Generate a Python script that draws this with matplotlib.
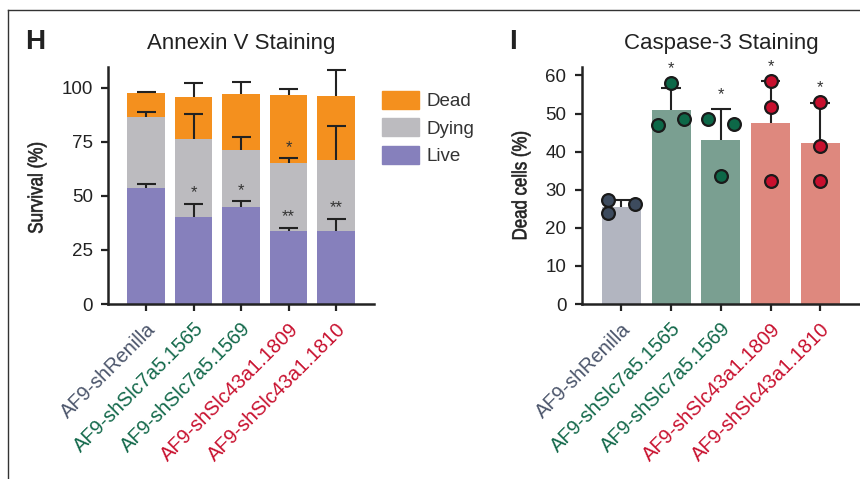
import numpy as np
import matplotlib.pyplot as plt
from matplotlib.patches import Patch, PathPatch
from matplotlib.lines import Line2D
from matplotlib.textpath import TextPath
from matplotlib.font_manager import FontProperties
from matplotlib.transforms import Affine2D, IdentityTransform

plt.rcParams['font.family'] = ['Liberation Sans', 'DejaVu Sans']

groups = ["AF9-shRenilla", "AF9-shSlc7a5.1565", "AF9-shSlc7a5.1569",
          "AF9-shSlc43a1.1809", "AF9-shSlc43a1.1810"]
label_colors = ["#4b556b", "#12684a", "#12684a", "#c8102e", "#c8102e"]

# Annexin V (stacked, %)
live = [53.7, 40.3, 44.9, 33.8, 33.8]
dying = [32.6, 36.1, 26.4, 31.5, 32.9]
dead = [11.2, 19.3, 25.8, 31.3, 29.4]
live_err = [2.0, 6.1, 2.6, 1.5, 5.6]
dying_err = [2.3, 11.4, 5.9, 2.1, 15.7]
dead_err = [0.6, 6.6, 5.4, 2.9, 11.9]
live_sig = ["", "*", "*", "**", "**"]
dying_sig = ["", "", "", "*", ""]

# Caspase-3 (dead cells %)
casp_mean = [25.5, 50.9, 43.0, 47.5, 42.3]
casp_err = [1.8, 5.9, 8.3, 11.0, 10.4]
casp_pts = [[27.3, 23.8, 26.2], [57.9, 47.0, 48.5], [48.5, 33.6, 47.2],
            [58.6, 51.8, 32.4], [53.1, 41.5, 32.4]]
casp_offsets = [[-13, -13, 13], [0, -13, 13], [-13, 0, 13], [0, 0, 0], [0, 0, 0]]
casp_sig = ["", "*", "*", "*", "*"]
casp_bar_colors = ["#b2b5c0", "#7a9f91", "#7a9f91", "#de887e", "#de887e"]
casp_dot_colors = ["#3d4b5e", "#0d6848", "#0d6848", "#c8102e", "#c8102e"]

INK = "#222222"


def style_axis(ax):
    for s in ["top", "right"]:
        ax.spines[s].set_visible(False)
    for s in ["left", "bottom"]:
        ax.spines[s].set_linewidth(1.8)
        ax.spines[s].set_color(INK)
    ax.tick_params(width=1.6, length=5, colors=INK, labelsize=13.5, pad=6)
    ax.set_xticks(range(len(groups)))
    ax.set_xticklabels(groups, rotation=45, ha="right", rotation_mode="anchor",
                       fontsize=14.3)
    for t, c in zip(ax.get_xticklabels(), label_colors):
        t.set_color(c)
    ax.set_xlim(-0.8, 4.8)


def upper_err(ax, xs, tops, errs, capw=0.2):
    # only the upper half of an error bar, like the reference
    for xi, t, e in zip(xs, tops, errs):
        ax.plot([xi, xi], [t, t + e], color=INK, lw=1.5, zorder=3, solid_capstyle="butt")
        ax.plot([xi - capw, xi + capw], [t + e, t + e], color=INK, lw=1.5, zorder=3,
                solid_capstyle="butt")


def narrow_ylabel(fig, text, cx, cy, length, height):
    # condensed vertical label; pixel coords from the top-left corner
    tp = TextPath((0, 0), text, size=20, prop=FontProperties(family="Liberation Sans"))
    ext = tp.get_extents()
    sx = length / ext.width
    sy = height / ext.height
    tr = (Affine2D().translate(-ext.x0 - ext.width / 2, -ext.y0 - ext.height / 2)
          .scale(sx, sy).rotate_deg(90).translate(cx, 479 - cy))
    fig.add_artist(PathPatch(tr.transform_path(tp), transform=IdentityTransform(),
                             facecolor=INK, edgecolor=INK, lw=0.45))


fig = plt.figure(figsize=(8.6, 4.79), dpi=100)
x = np.arange(len(groups))
w = 0.78

# panel H
ax1 = fig.add_axes([0.1256, 0.3653, 0.3093, 0.4952])
bottom_dying = np.array(live)
bottom_dead = bottom_dying + np.array(dying)
top_dead = bottom_dead + np.array(dead)
ax1.bar(x, live, w, color="#8680bc", zorder=2)
ax1.bar(x, dying, w, bottom=bottom_dying, color="#bcbbbf", zorder=2)
ax1.bar(x, dead, w, bottom=bottom_dead, color="#f4901e", zorder=2)
upper_err(ax1, x, live, live_err)
upper_err(ax1, x, bottom_dead, dying_err)
upper_err(ax1, x, top_dead, dead_err)
for i in range(5):
    if live_sig[i]:
        ax1.text(x[i], live[i] + live_err[i] + 1.5, live_sig[i], ha="center",
                 va="bottom", fontsize=12, color="#333333")
    if dying_sig[i]:
        ax1.text(x[i], bottom_dead[i] + dying_err[i] + 1.5, dying_sig[i], ha="center",
                 va="bottom", fontsize=12, color="#333333")
ax1.set_ylim(0, 109.7)
ax1.set_yticks([0, 25, 50, 75, 100])
style_axis(ax1)
ax1.set_title("Annexin V Staining", fontsize=16, color=INK, pad=13)
narrow_ylabel(fig, "Survival (%)", 37, 188, 90, 19)

handles = [Patch(color="#f4901e"), Patch(color="#bcbbbf"), Patch(color="#8680bc")]
fig.legend(handles, ["Dead", "Dying", "Live"], loc="upper left",
           bbox_to_anchor=(382 / 860, 1 - 91 / 479), frameon=False, fontsize=13.5,
           handlelength=1.95, handleheight=1.1, labelspacing=0.42, handletextpad=0.45,
           borderpad=0, borderaxespad=0, labelcolor="#333333")

# panel I
ax2 = fig.add_axes([0.6764, 0.3653, 0.3236, 0.4955])
ax2.bar(x, casp_mean, w, color=casp_bar_colors, zorder=2)
upper_err(ax2, x, casp_mean, casp_err)
for i in range(5):
    px = x[i] + np.array(casp_offsets[i]) / 49.25
    ax2.plot(px, casp_pts[i], "o", ms=9.2, mfc=casp_dot_colors[i], mec="#1a1a1a",
             mew=1.6, zorder=4, clip_on=False)
    if casp_sig[i]:
        top = max(max(casp_pts[i]), casp_mean[i] + casp_err[i])
        ax2.text(x[i], top + 1.8, casp_sig[i], ha="center", va="bottom",
                 fontsize=12, color="#333333", clip_on=False)
ax2.set_ylim(0, 62.3)
ax2.set_yticks([0, 10, 20, 30, 40, 50, 60])
style_axis(ax2)
ax2.set_title("Caspase-3 Staining", fontsize=16, color=INK, pad=13)
narrow_ylabel(fig, "Dead cells (%)", 521, 185.5, 107, 19)

# panel letters and frame
fig.text(25 / 860, 1 - 42 / 479, "H", fontsize=20, fontweight="bold", color=INK,
         va="center", ha="left")
fig.text(509 / 860, 1 - 42 / 479, "I", fontsize=20, fontweight="bold", color=INK,
         va="center", ha="left")
fig.add_artist(Line2D([8 / 860, 8 / 860], [0, 1 - 10 / 479], color="#333333", lw=1.0))
fig.add_artist(Line2D([8 / 860, 1], [1 - 10 / 479, 1 - 10 / 479], color="#333333", lw=1.0))

fig.savefig("out.png", dpi=100)
